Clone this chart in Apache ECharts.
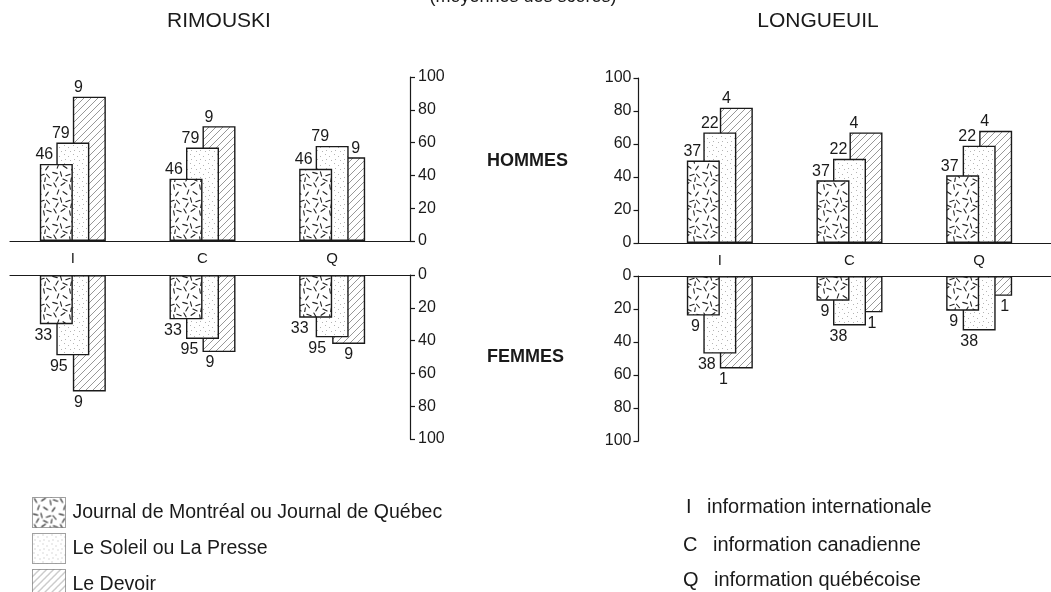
<!DOCTYPE html>
<html>
<head>
<meta charset="utf-8">
<script src="https://cdn.jsdelivr.net/npm/echarts/dist/echarts.min.js"></script>
<style>
html,body{margin:0;padding:0;background:#ffffff;}
#chart{width:1051px;height:592px;}
</style>
</head>
<body>
<div id="chart"></div>
<script>
// ---------- DATA ----------
const categories = ['I', 'C', 'Q'];
const categoryDescriptions = ['information internationale', 'information canadienne', 'information québécoise'];
const newspapers = ['Journal de Montréal ou Journal de Québec', 'Le Soleil ou La Presse', 'Le Devoir'];
const cities = ['RIMOUSKI', 'LONGUEUIL'];
const sexes = ['HOMMES', 'FEMMES'];
const subtitle = '(moyennes des scores)';
const yMin = 0, yMax = 100, yStep = 20;

// Rimouski - hommes (mean scores)
const rimHommesJournal = [47, 38, 44];
const rimHommesSoleil  = [60, 57, 58];
const rimHommesDevoir  = [88, 70, 51];
// Rimouski - femmes
const rimFemmesJournal = [30, 27, 26];
const rimFemmesSoleil  = [49, 39, 38];
const rimFemmesDevoir  = [71, 47, 42];
// Longueuil - hommes
const lonHommesJournal = [50, 38, 41];
const lonHommesSoleil  = [67, 51, 59];
const lonHommesDevoir  = [82, 67, 68];
// Longueuil - femmes
const lonFemmesJournal = [24, 15, 21];
const lonFemmesSoleil  = [47, 30, 33];
const lonFemmesDevoir  = [56, 22, 12];

// sample sizes shown beside bars (Journal, Soleil, Devoir)
const rimHommesN = [46, 79, 9];
const rimFemmesN = [33, 95, 9];
const lonHommesN = [37, 22, 4];
const lonFemmesN = [9, 38, 1];

// ---------- STYLE ----------
const FONT = '"Liberation Sans", Arial, Helvetica, sans-serif';
const INK = '#1a1a1a';

// label horizontal offsets (px from bar centre), per series per category
const offRimHommes = [[-12, -12, -12], [-12, -12, -12], [-11, -10, 7]];
const offRimFemmes = [[-13, -13, -16], [-14, -13, -15], [-11, -9, 0]];
const offLonHommes = [[-11, -12, -13], [-10, -11, -12], [-10, -12, -11]];
const offLonFemmes = [[-8, -8, -9], [-13, -11, -10], [-13, 6, 9]];

function tile(w, h, draw) {
  const c = document.createElement('canvas');
  c.width = w; c.height = h;
  const g = c.getContext('2d');
  g.fillStyle = '#ffffff';
  g.fillRect(0, 0, w, h);
  draw(g);
  return c;
}
const journalTile = tile(26, 26, g => {
  g.strokeStyle = '#222'; g.lineWidth = 1.1; g.lineCap = 'round';
  const d = [[3,3,60],[11,2,-35],[18,5,80],[23,3,20],[6,10,-70],[13,11,35],[21,12,-55],
             [3,17,15],[9,18,75],[16,19,-20],[22,20,50],[5,23,-60],[13,24,25],[19,24,-80]];
  d.forEach(([x, y, a]) => {
    const r = a * Math.PI / 180, L = 2.3;
    g.beginPath();
    g.moveTo(x - L * Math.cos(r), y - L * Math.sin(r));
    g.lineTo(x + L * Math.cos(r), y + L * Math.sin(r));
    g.stroke();
  });
});
const soleilTile = tile(9, 9, g => {
  g.fillStyle = '#b5b5b5';
  [[1,1],[5,3],[2,6],[7,7]].forEach(([x, y]) => g.fillRect(x, y, 1, 1));
});
const devoirTile = tile(7, 7, g => {
  g.strokeStyle = '#8c8c8c'; g.lineWidth = 0.9;
  g.beginPath();
  g.moveTo(-1, 8); g.lineTo(8, -1);
  g.moveTo(-1, 1); g.lineTo(1, -1);
  g.moveTo(6, 8); g.lineTo(8, 6);
  g.stroke();
});
const fills = [journalTile, soleilTile, devoirTile];
const zOrder = [5, 4, 3];

// ---------- LAYOUT ----------
const panels = [
  { frameLeft: 10,    frameWidth: 400,   barLeft: 8,   barWidthPx: 389, top: 77,  height: 164, femmes: false, right: true },
  { frameLeft: 10,    frameWidth: 400,   barLeft: 8,   barWidthPx: 389, top: 275, height: 164, femmes: true,  right: true },
  { frameLeft: 638.5, frameWidth: 412.5, barLeft: 655, barWidthPx: 389, top: 78,  height: 165, femmes: false, right: false },
  { frameLeft: 638.5, frameWidth: 412.5, barLeft: 655, barWidthPx: 389, top: 276, height: 165, femmes: true,  right: false }
];
const panelData = [
  { vals: [rimHommesJournal, rimHommesSoleil, rimHommesDevoir], n: rimHommesN, off: offRimHommes },
  { vals: [rimFemmesJournal, rimFemmesSoleil, rimFemmesDevoir], n: rimFemmesN, off: offRimFemmes },
  { vals: [lonHommesJournal, lonHommesSoleil, lonHommesDevoir], n: lonHommesN, off: offLonHommes },
  { vals: [lonFemmesJournal, lonFemmesSoleil, lonFemmesDevoir], n: lonFemmesN, off: offLonFemmes }
];

const grid = [], xAxis = [], yAxis = [], series = [];
panels.forEach((p, pi) => {
  const fi = pi * 2, bi = pi * 2 + 1;
  grid.push({ left: p.frameLeft, width: p.frameWidth, top: p.top, height: p.height });
  grid.push({ left: p.barLeft, width: p.barWidthPx, top: p.top, height: p.height });
  // frame axes
  xAxis.push({
    gridIndex: fi, type: 'value', min: 0, max: 1,
    position: p.femmes ? 'top' : 'bottom',
    axisLine: { show: true, onZero: false, lineStyle: { color: INK, width: 1.2 } },
    axisTick: { show: false }, axisLabel: { show: false }, splitLine: { show: false }
  });
  yAxis.push({
    gridIndex: fi, type: 'value', min: yMin, max: yMax, interval: yStep,
    inverse: p.femmes, position: p.right ? 'right' : 'left',
    axisLine: { show: true, onZero: false, lineStyle: { color: INK, width: 1.2 } },
    axisTick: { show: true, inside: false, length: 5, lineStyle: { color: INK, width: 1.2 } },
    axisLabel: { show: true, margin: p.right ? 8 : 7, fontSize: 16, color: INK, fontFamily: FONT },
    splitLine: { show: false }
  });
  // bar axes
  xAxis.push({
    gridIndex: bi, type: 'category', data: categories,
    position: p.femmes ? 'top' : 'bottom',
    axisLine: { show: false, onZero: false }, axisTick: { show: false },
    axisLabel: { show: !p.femmes, margin: 10, fontSize: 15, color: INK, fontFamily: FONT },
    splitLine: { show: false }
  });
  yAxis.push({ gridIndex: bi, type: 'value', min: yMin, max: yMax, inverse: p.femmes, show: false });

  const d = panelData[pi];
  newspapers.forEach((name, si) => {
    const offs = d.off[si];
    series.push({
      type: 'bar', name: name, xAxisIndex: bi, yAxisIndex: bi, z: zOrder[si],
      barWidth: 33, barGap: '-50%',
      itemStyle: { color: { image: fills[si], repeat: 'repeat' }, borderColor: INK, borderWidth: 1.4 },
      label: {
        show: true, position: p.femmes ? 'bottom' : 'top', distance: p.femmes ? 3 : 1,
        formatter: String(d.n[si]), fontSize: 16, color: INK, fontFamily: FONT
      },
      emphasis: { disabled: true },
      data: d.vals[si].map((v, i) => ({ value: v, label: { offset: [offs[i], 0] } }))
    });
  });
});

function txt(x, y, text, font, align) {
  return { type: 'text', z: 10, style: { x: x, y: y, text: text, font: font, fill: INK,
    align: align, textAlign: align, verticalAlign: 'middle', textVerticalAlign: 'middle' } };
}
const graphic = [
  txt(523, -3, subtitle, '18px ' + FONT, 'center'),
  txt(219, 21, cities[0], '21px ' + FONT, 'center'),
  txt(818, 21, cities[1], '21px ' + FONT, 'center'),
  txt(487, 161, sexes[0], 'bold 18px ' + FONT, 'left'),
  txt(487, 357, sexes[1], 'bold 18px ' + FONT, 'left')
];
const catLegendX = [686, 683, 683];
const catLegendTextX = [707, 713, 714];
const catLegendY = [507, 545, 580];
categories.forEach((c, i) => {
  graphic.push(txt(catLegendX[i], catLegendY[i], c, '20px ' + FONT, 'left'));
  graphic.push(txt(catLegendTextX[i], catLegendY[i], categoryDescriptions[i], '20px ' + FONT, 'left'));
});

const chart = echarts.init(document.getElementById('chart'), null, { renderer: 'canvas' });
chart.setOption({
  backgroundColor: '#ffffff',
  animation: false,
  textStyle: { fontFamily: FONT },
  legend: {
    data: newspapers, orient: 'vertical', left: 27, top: 492, height: 110,
    itemWidth: 33, itemHeight: 30, itemGap: 5, icon: 'rect', selectedMode: false,
    itemStyle: { borderColor: '#444', borderWidth: 1, borderType: 'dotted' },
    textStyle: { fontSize: 19.5, color: INK, fontFamily: FONT, padding: [0, 0, 0, 2] }
  },
  grid: grid, xAxis: xAxis, yAxis: yAxis, series: series, graphic: graphic
});
</script>
</body>
</html>
